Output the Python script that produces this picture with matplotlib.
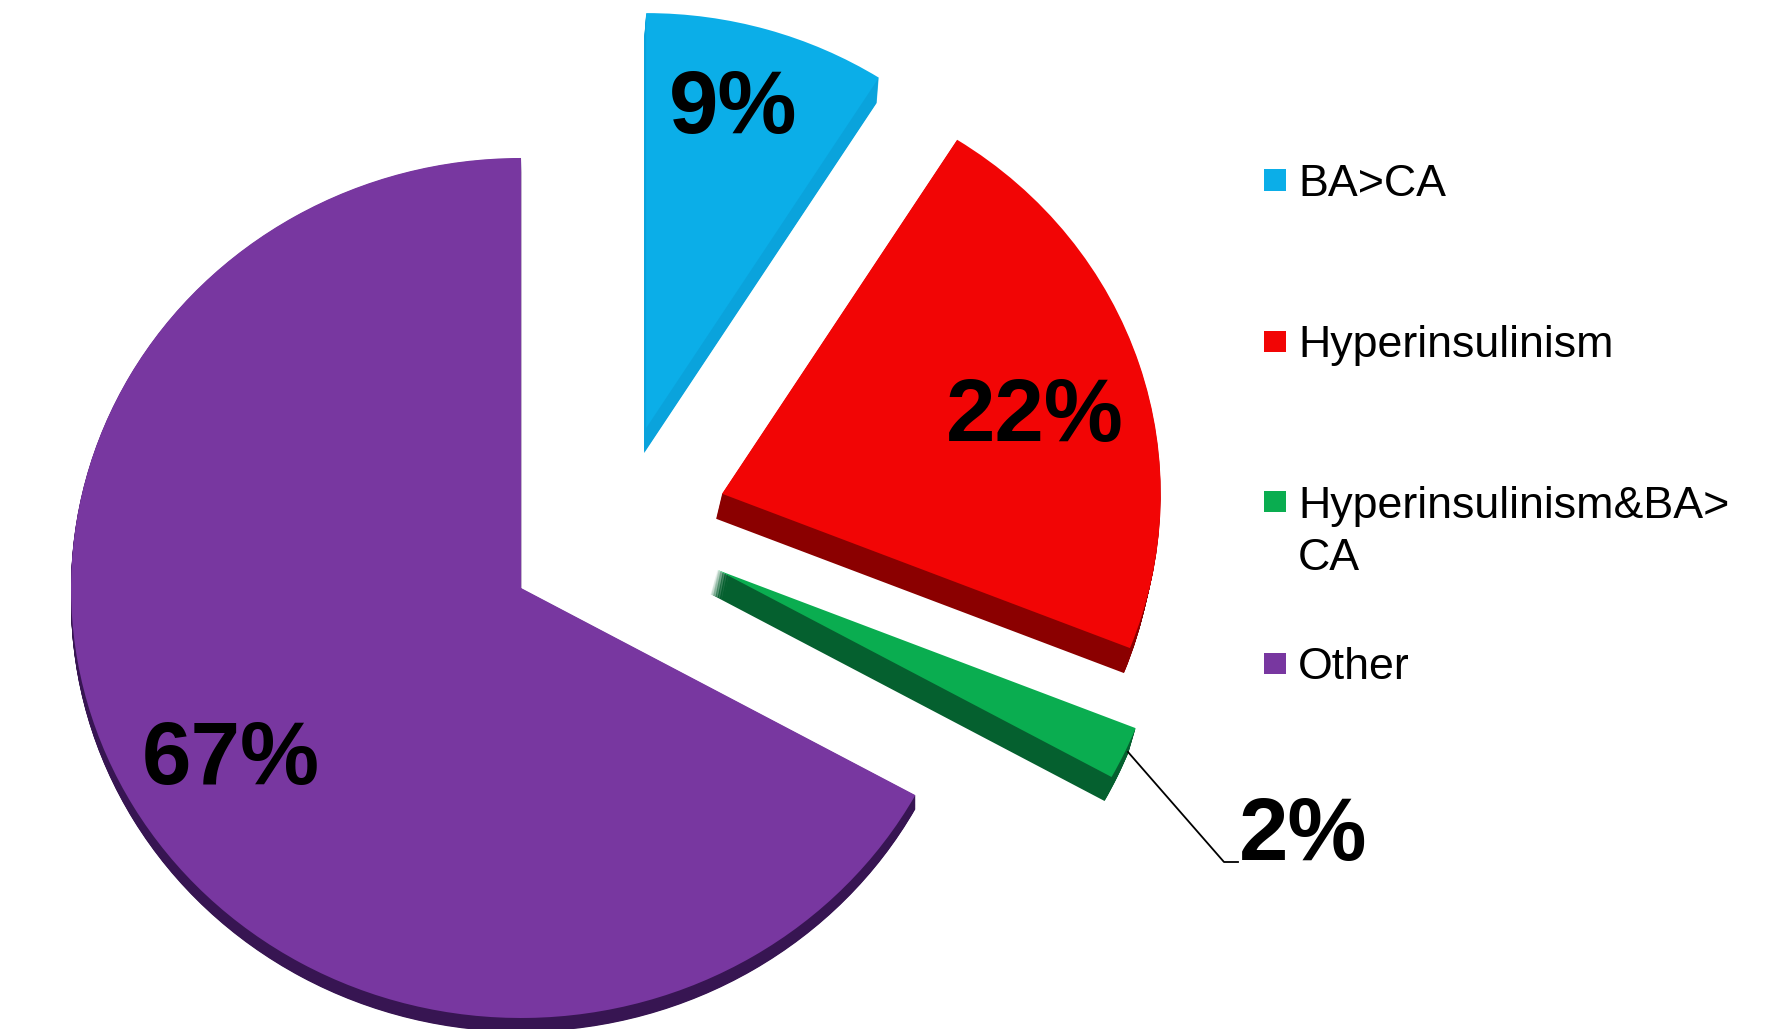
import matplotlib
matplotlib.use('Agg')
import matplotlib.pyplot as plt

plt.rcParams['font.family'] = ['Liberation Sans', 'DejaVu Sans']

categories = ['BA>CA', 'Hyperinsulinism', 'Hyperinsulinism&BA>\nCA', 'Other']
values = [9, 22, 2, 67]

top_colors = ['#0BAEE8', '#F20505', '#0AAD50', '#7837A0']
side_colors = ['#0AA3DC', '#8B0000', '#05602F', '#371552']

W, H = 1792, 1029
RX, RY = 450.0, 430.0   # pixels per pie radius, the pie is drawn flattened
CX, CY = 615.5, 538.5   # pie centre in pixels from top left

# per slice look: explode, radius, small shift of the apex, depth of the side
explode = [0.23, 0.23, 0.23, 0.23]
radius = [0.965, 0.975, 1.0, 1.0]
nudge = [(0.004, 0.036), (0.018, 0.033), (0.018, 0.025), (-0.012, 0.002)]
depth = [(-2, 25), (-6, 25), (-7, 24), (0, 14)]
side_steps = 25

legend_y = [180, 341, 502, 663]
label_pos = [(733, 110), (1035, 418), (1303, 837), (231, 761)]
label_size = [64, 64, 64, 64]


def fx(x):
    return x / W


def fy(y):
    return 1 - y / H


fig = plt.figure(figsize=(W / 100, H / 100), dpi=100)
ax = fig.add_axes([0, 0, 1, 1])

# the side of each slice is the same slice stacked downwards, top surface goes last
for step in range(side_steps, -1, -1):
    colors = side_colors if step > 0 else top_colors
    wedges, _ = ax.pie(values, colors=colors, startangle=90, counterclock=False,
                       explode=explode, wedgeprops={'linewidth': 0})
    for i in range(len(values)):
        cx, cy = wedges[i].center
        f = step / side_steps
        wedges[i].set_center((cx + nudge[i][0] + f * depth[i][0] / RX,
                              cy + nudge[i][1] - f * depth[i][1] / RY))
        wedges[i].set_radius(radius[i])

ax.set_aspect('auto')
ax.set_xlim(-CX / RX, (W - CX) / RX)
ax.set_ylim(-(H - CY) / RY, CY / RY)
ax.axis('off')

# percent labels
for v, pos, size in zip(values, label_pos, label_size):
    ax.text(fx(pos[0]), fy(pos[1]), '%d%%' % v, transform=ax.transAxes, fontsize=size,
            fontweight='bold', color='black', ha='center', va='center')

# leader line of the small slice
ax.plot([fx(1128), fx(1224), fx(1238)], [fy(752), fy(862), fy(862)], color='black',
        linewidth=1.3, transform=ax.transAxes, clip_on=False)

# legend
for name, color, y in zip(categories, top_colors, legend_y):
    ax.add_patch(plt.Rectangle((fx(1264), fy(y + 10.5)), 22 / W, 21 / H, facecolor=color,
                               edgecolor='none', transform=ax.transAxes))
    ax.text(fx(1298), fy(y - 16), name, transform=ax.transAxes, fontsize=32.2, color='black',
            ha='left', va='top', linespacing=1.33)

fig.savefig('out.png', dpi=100)
